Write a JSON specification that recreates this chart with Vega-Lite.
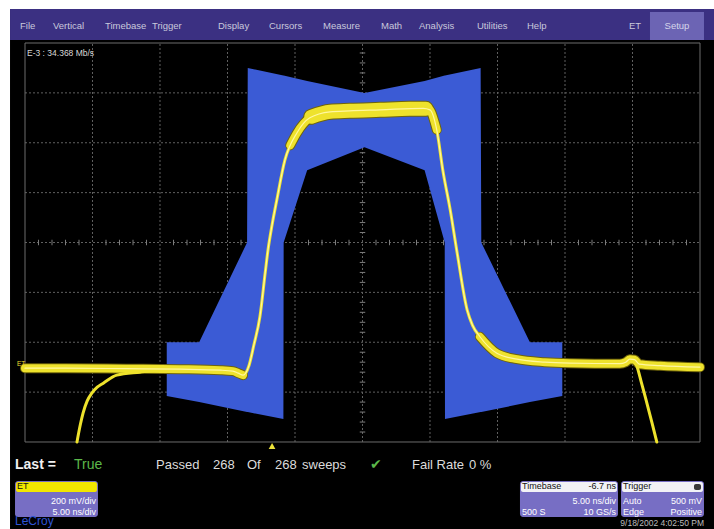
{
  "$schema": "https://vega.github.io/schema/vega-lite/v6.json",
  "width": 714,
  "height": 529,
  "autosize": "none",
  "padding": 0,
  "background": "#000000",
  "config": {"view": {"stroke": null}, "text": {"font": "Liberation Sans"}},
  "datasets": {
    "panels": [
      {"c": "white", "x": -0.3704, "x2": 10.2074, "y": 4.682, "y2": 4.8622},
      {"c": "white", "x": -0.3704, "x2": -0.222, "y": -5.7444, "y2": 4.8622},
      {"c": "menubar", "x": -0.222, "x2": 10.2074, "y": 4.06, "y2": 4.682},
      {"c": "setup", "x": 9.259, "x2": 10.059, "y": 4.06, "y2": 4.622}
    ],
    "boxes": [
      {"c": "box", "x": -0.148, "x2": 1.081, "y": -5.504, "y2": -4.782},
      {"c": "box", "x": 7.333, "x2": 8.785, "y": -5.504, "y2": -4.782},
      {"c": "box", "x": 8.83, "x2": 10.059, "y": -5.504, "y2": -4.782}
    ],
    "heads": [
      {"c": "ethead", "x": -0.133, "x2": 1.066, "y": -5.003, "y2": -4.8},
      {"c": "whitehead", "x": 7.348, "x2": 8.77, "y": -5.003, "y2": -4.8},
      {"c": "whitehead", "x": 8.845, "x2": 10.044, "y": -5.003, "y2": -4.8},
      {"c": "icon", "x": 9.911, "x2": 10.015, "y": -4.962, "y2": -4.842}
    ],
    "gv": [
      {"x": 1, "y": -4, "y2": 4}, {"x": 2, "y": -4, "y2": 4}, {"x": 3, "y": -4, "y2": 4},
      {"x": 4, "y": -4, "y2": 4}, {"x": 5, "y": -4, "y2": 4}, {"x": 6, "y": -4, "y2": 4},
      {"x": 7, "y": -4, "y2": 4}, {"x": 8, "y": -4, "y2": 4}, {"x": 9, "y": -4, "y2": 4}
    ],
    "gh": [
      {"y": -3, "x": 0, "x2": 10}, {"y": -2, "x": 0, "x2": 10}, {"y": -1, "x": 0, "x2": 10},
      {"y": 0, "x": 0, "x2": 10}, {"y": 1, "x": 0, "x2": 10}, {"y": 2, "x": 0, "x2": 10},
      {"y": 3, "x": 0, "x2": 10}
    ],
    "frame": [{"x": 0, "x2": 10, "y": -4, "y2": 4}],
    "tx": [
      {"x":0.2,"y":0},{"x":0.4,"y":0},{"x":0.6,"y":0},{"x":0.8,"y":0},{"x":1.2,"y":0},{"x":1.4,"y":0},{"x":1.6,"y":0},{"x":1.8,"y":0},
      {"x":2.2,"y":0},{"x":2.4,"y":0},{"x":2.6,"y":0},{"x":2.8,"y":0},{"x":3.2,"y":0},{"x":3.4,"y":0},{"x":3.6,"y":0},{"x":3.8,"y":0},
      {"x":4.2,"y":0},{"x":4.4,"y":0},{"x":4.6,"y":0},{"x":4.8,"y":0},{"x":5.2,"y":0},{"x":5.4,"y":0},{"x":5.6,"y":0},{"x":5.8,"y":0},
      {"x":6.2,"y":0},{"x":6.4,"y":0},{"x":6.6,"y":0},{"x":6.8,"y":0},{"x":7.2,"y":0},{"x":7.4,"y":0},{"x":7.6,"y":0},{"x":7.8,"y":0},
      {"x":8.2,"y":0},{"x":8.4,"y":0},{"x":8.6,"y":0},{"x":8.8,"y":0},{"x":9.2,"y":0},{"x":9.4,"y":0},{"x":9.6,"y":0},{"x":9.8,"y":0}
    ],
    "ty": [
      {"x":5,"y":-3.8},{"x":5,"y":-3.6},{"x":5,"y":-3.4},{"x":5,"y":-3.2},{"x":5,"y":-2.8},{"x":5,"y":-2.6},{"x":5,"y":-2.4},{"x":5,"y":-2.2},
      {"x":5,"y":-1.8},{"x":5,"y":-1.6},{"x":5,"y":-1.4},{"x":5,"y":-1.2},{"x":5,"y":-0.8},{"x":5,"y":-0.6},{"x":5,"y":-0.4},{"x":5,"y":-0.2},
      {"x":5,"y":0.2},{"x":5,"y":0.4},{"x":5,"y":0.6},{"x":5,"y":0.8},{"x":5,"y":1.2},{"x":5,"y":1.4},{"x":5,"y":1.6},{"x":5,"y":1.8},
      {"x":5,"y":2.2},{"x":5,"y":2.4},{"x":5,"y":2.6},{"x":5,"y":2.8},{"x":5,"y":3.2},{"x":5,"y":3.4},{"x":5,"y":3.6},{"x":5,"y":3.8}
    ],
    "mask": [
      {"x": 2.10, "y": -2.00, "y2": -3.08},
      {"x": 2.58, "y": -2.00, "y2": -3.20},
      {"x": 3.29, "y": 0.00, "y2": -3.40},
      {"x": 3.30, "y": 3.50, "y2": -3.40},
      {"x": 3.828, "y": 3.35, "y2": -3.54},
      {"x": 3.832, "y": 3.35, "y2": 0.00},
      {"x": 4.18, "y": 3.24, "y2": 1.45},
      {"x": 5.03, "y": 3.00, "y2": 1.91},
      {"x": 5.92, "y": 3.24, "y2": 1.45},
      {"x": 6.218, "y": 3.35, "y2": 0.00},
      {"x": 6.222, "y": 3.35, "y2": -3.54},
      {"x": 6.75, "y": 3.50, "y2": -3.40},
      {"x": 6.76, "y": 0.00, "y2": -3.40},
      {"x": 7.48, "y": -2.00, "y2": -3.20},
      {"x": 7.96, "y": -2.00, "y2": -3.08}
    ],
    "wave": [
      {"s": "main", "x": 0.00, "y": -2.52},
      {"s": "main", "x": 0.60, "y": -2.52},
      {"s": "main", "x": 1.50, "y": -2.53},
      {"s": "main", "x": 2.30, "y": -2.54},
      {"s": "main", "x": 2.90, "y": -2.56},
      {"s": "main", "x": 3.08, "y": -2.58},
      {"s": "main", "x": 3.16, "y": -2.62},
      {"s": "main", "x": 3.23, "y": -2.66},
      {"s": "main", "x": 3.32, "y": -2.46},
      {"s": "main", "x": 3.39, "y": -2.06},
      {"s": "main", "x": 3.48, "y": -1.49},
      {"s": "main", "x": 3.56, "y": -0.59},
      {"s": "main", "x": 3.60, "y": -0.15},
      {"s": "main", "x": 3.66, "y": 0.35},
      {"s": "main", "x": 3.73, "y": 0.85},
      {"s": "main", "x": 3.85, "y": 1.65},
      {"s": "main", "x": 4.03, "y": 2.20},
      {"s": "main", "x": 4.22, "y": 2.50},
      {"s": "main", "x": 4.52, "y": 2.62},
      {"s": "main", "x": 4.81, "y": 2.64},
      {"s": "main", "x": 5.26, "y": 2.66},
      {"s": "main", "x": 5.90, "y": 2.69},
      {"s": "main", "x": 6.00, "y": 2.66},
      {"s": "main", "x": 6.10, "y": 2.26},
      {"s": "main", "x": 6.19, "y": 1.45},
      {"s": "main", "x": 6.30, "y": 0.65},
      {"s": "main", "x": 6.40, "y": -0.19},
      {"s": "main", "x": 6.55, "y": -1.35},
      {"s": "main", "x": 6.63, "y": -1.66},
      {"s": "main", "x": 6.74, "y": -1.89},
      {"s": "main", "x": 6.99, "y": -2.22},
      {"s": "main", "x": 7.29, "y": -2.34},
      {"s": "main", "x": 7.70, "y": -2.40},
      {"s": "main", "x": 8.07, "y": -2.42},
      {"s": "main", "x": 8.81, "y": -2.43},
      {"s": "main", "x": 8.90, "y": -2.40},
      {"s": "main", "x": 8.96, "y": -2.34},
      {"s": "main", "x": 9.03, "y": -2.35},
      {"s": "main", "x": 9.10, "y": -2.44},
      {"s": "main", "x": 9.41, "y": -2.47},
      {"s": "main", "x": 10.00, "y": -2.50},
      {"s": "lcurve", "x": 0.77, "y": -4.00},
      {"s": "lcurve", "x": 0.82, "y": -3.65},
      {"s": "lcurve", "x": 0.86, "y": -3.42},
      {"s": "lcurve", "x": 0.92, "y": -3.18},
      {"s": "lcurve", "x": 0.99, "y": -3.02},
      {"s": "lcurve", "x": 1.07, "y": -2.90},
      {"s": "lcurve", "x": 1.16, "y": -2.82},
      {"s": "lcurve", "x": 1.36, "y": -2.66},
      {"s": "lcurve", "x": 1.70, "y": -2.60},
      {"s": "lcurve", "x": 2.07, "y": -2.55},
      {"s": "lcurve", "x": 2.40, "y": -2.54},
      {"s": "rfall", "x": 8.96, "y": -2.36},
      {"s": "rfall", "x": 9.03, "y": -2.38},
      {"s": "rfall", "x": 9.07, "y": -2.50},
      {"s": "rfall", "x": 9.13, "y": -2.80},
      {"s": "rfall", "x": 9.19, "y": -3.10},
      {"s": "rfall", "x": 9.29, "y": -3.62},
      {"s": "rfall", "x": 9.36, "y": -4.00},
      {"s": "bandL", "x": 0.00, "y": -2.52},
      {"s": "bandL", "x": 0.60, "y": -2.52},
      {"s": "bandL", "x": 1.50, "y": -2.53},
      {"s": "bandL", "x": 2.30, "y": -2.54},
      {"s": "bandL", "x": 2.90, "y": -2.56},
      {"s": "bandL", "x": 3.08, "y": -2.58},
      {"s": "bandL", "x": 3.16, "y": -2.62},
      {"s": "bandL", "x": 3.23, "y": -2.66},
      {"s": "bandS1", "x": 3.93, "y": 1.95},
      {"s": "bandS1", "x": 4.03, "y": 2.20},
      {"s": "bandS1", "x": 4.22, "y": 2.50},
      {"s": "bandS1", "x": 4.40, "y": 2.59},
      {"s": "bandS2", "x": 5.90, "y": 2.69},
      {"s": "bandS2", "x": 6.00, "y": 2.66},
      {"s": "bandS2", "x": 6.06, "y": 2.45},
      {"s": "bandS2", "x": 6.10, "y": 2.26},
      {"s": "bandTop", "x": 4.24, "y": 2.52},
      {"s": "bandTop", "x": 4.52, "y": 2.62},
      {"s": "bandTop", "x": 4.81, "y": 2.64},
      {"s": "bandTop", "x": 5.26, "y": 2.66},
      {"s": "bandTop", "x": 5.70, "y": 2.68},
      {"s": "bandTop", "x": 5.94, "y": 2.68},
      {"s": "bandR", "x": 6.74, "y": -1.89},
      {"s": "bandR", "x": 6.99, "y": -2.22},
      {"s": "bandR", "x": 7.29, "y": -2.34},
      {"s": "bandR", "x": 7.70, "y": -2.40},
      {"s": "bandR", "x": 8.07, "y": -2.42},
      {"s": "bandR", "x": 8.81, "y": -2.43},
      {"s": "bandR", "x": 8.90, "y": -2.40},
      {"s": "bandR", "x": 8.96, "y": -2.34},
      {"s": "bandR", "x": 9.03, "y": -2.35},
      {"s": "bandR", "x": 9.10, "y": -2.44},
      {"s": "bandR", "x": 9.41, "y": -2.47},
      {"s": "bandR", "x": 10.00, "y": -2.50}
    ],
    "menu": [
      {"t": "File", "x": -0.074, "y": 4.35},
      {"t": "Vertical", "x": 0.415, "y": 4.35},
      {"t": "Timebase", "x": 1.185, "y": 4.35},
      {"t": "Trigger", "x": 1.881, "y": 4.35},
      {"t": "Display", "x": 2.859, "y": 4.35},
      {"t": "Cursors", "x": 3.615, "y": 4.35},
      {"t": "Measure", "x": 4.415, "y": 4.35},
      {"t": "Math", "x": 5.274, "y": 4.35},
      {"t": "Analysis", "x": 5.837, "y": 4.35},
      {"t": "Utilities", "x": 6.696, "y": 4.35},
      {"t": "Help", "x": 7.437, "y": 4.35},
      {"t": "ET", "x": 8.948, "y": 4.35}
    ],
    "status": [
      {"t": "Passed", "x": 1.941, "y": -4.46},
      {"t": "268", "x": 2.785, "y": -4.46},
      {"t": "Of", "x": 3.289, "y": -4.46},
      {"t": "268", "x": 3.704, "y": -4.46},
      {"t": "sweeps", "x": 4.104, "y": -4.46},
      {"t": "Fail Rate", "x": 5.733, "y": -4.46},
      {"t": "0 %", "x": 6.578, "y": -4.46}
    ],
    "blackLeft": [
      {"t": "ET", "x": -0.119, "y": -4.892},
      {"t": "Timebase", "x": 7.363, "y": -4.892},
      {"t": "Trigger", "x": 8.859, "y": -4.892}
    ],
    "blackRight": [
      {"t": "-6.7 ns", "x": 8.756, "y": -4.892}
    ],
    "whiteRight": [
      {"t": "200 mV/div", "x": 1.052, "y": -5.183},
      {"t": "5.00 ns/div", "x": 1.052, "y": -5.403},
      {"t": "5.00 ns/div", "x": 8.756, "y": -5.183},
      {"t": "10 GS/s", "x": 8.756, "y": -5.403},
      {"t": "500 mV", "x": 10.03, "y": -5.183},
      {"t": "Positive", "x": 10.03, "y": -5.403}
    ],
    "whiteLeft": [
      {"t": "500 S", "x": 7.363, "y": -5.403},
      {"t": "Auto", "x": 8.859, "y": -5.183},
      {"t": "Edge", "x": 8.859, "y": -5.403}
    ]
  },
  "encoding": {
    "x": {"field": "x", "type": "quantitative", "scale": {"domain": [-0.3704, 10.2074], "nice": false, "zero": false}, "axis": null},
    "y": {"field": "y", "type": "quantitative", "scale": {"domain": [-5.7444, 4.8622], "nice": false, "zero": false}, "axis": null}
  },
  "layer": [
    {
      "data": {"name": "panels"},
      "mark": {"type": "rect"},
      "encoding": {
        "x2": {"field": "x2"},
        "y2": {"field": "y2"},
        "color": {"field": "c", "type": "nominal", "legend": null,
          "scale": {"domain": ["white", "menubar", "setup", "box", "ethead", "whitehead", "icon"],
                    "range": ["#ffffff", "#3b3082", "#6c64b4", "#776ec4", "#f2e600", "#f2f2f6", "#3a3a3a"]}}
      }
    },
    {
      "data": {"name": "gv"},
      "mark": {"type": "rule", "color": "#606060", "strokeDash": [2, 2], "strokeWidth": 1},
      "encoding": {"y2": {"field": "y2"}}
    },
    {
      "data": {"name": "gh"},
      "mark": {"type": "rule", "color": "#606060", "strokeDash": [2, 2], "strokeWidth": 1},
      "encoding": {"x2": {"field": "x2"}}
    },
    {
      "data": {"name": "tx"},
      "mark": {"type": "point", "shape": "stroke", "angle": 90, "size": 30, "color": "#7c7c7c", "strokeWidth": 1, "opacity": 1}
    },
    {
      "data": {"name": "ty"},
      "mark": {"type": "point", "shape": "stroke", "angle": 0, "size": 30, "color": "#7c7c7c", "strokeWidth": 1, "opacity": 1}
    },
    {
      "data": {"name": "frame"},
      "mark": {"type": "rect", "fill": "transparent", "stroke": "#6c6c6c", "strokeWidth": 1},
      "encoding": {"x2": {"field": "x2"}, "y2": {"field": "y2"}}
    },
    {
      "data": {"name": "mask"},
      "mark": {"type": "area", "color": "#3b5bd5", "orient": "vertical", "interpolate": "linear"},
      "encoding": {"y2": {"field": "y2"}}
    },
    {
      "data": {"name": "wave"},
      "transform": [{"filter": "datum.s === 'bandL' || datum.s === 'bandR' || datum.s === 'bandS1' || datum.s === 'bandS2'"}],
      "mark": {"type": "line", "color": "#6f640a", "strokeWidth": 10, "strokeCap": "round", "strokeJoin": "round", "interpolate": "monotone"},
      "encoding": {"detail": {"field": "s"}}
    },
    {
      "data": {"name": "wave"},
      "transform": [{"filter": "datum.s === 'bandTop'"}],
      "mark": {"type": "line", "color": "#6f640a", "strokeWidth": 16, "strokeCap": "round", "strokeJoin": "round", "interpolate": "monotone"},
      "encoding": {"detail": {"field": "s"}}
    },
    {
      "data": {"name": "wave"},
      "transform": [{"filter": "datum.s === 'main' || datum.s === 'lcurve' || datum.s === 'rfall'"}],
      "mark": {"type": "line", "color": "#eee22c", "strokeWidth": 3, "strokeCap": "round", "strokeJoin": "round", "interpolate": "monotone"},
      "encoding": {"detail": {"field": "s"}}
    },
    {
      "data": {"name": "wave"},
      "transform": [{"filter": "datum.s === 'bandL' || datum.s === 'bandR' || datum.s === 'bandS1' || datum.s === 'bandS2'"}],
      "mark": {"type": "line", "color": "#eee22c", "strokeWidth": 8, "strokeCap": "round", "strokeJoin": "round", "interpolate": "monotone"},
      "encoding": {"detail": {"field": "s"}}
    },
    {
      "data": {"name": "wave"},
      "transform": [{"filter": "datum.s === 'bandTop'"}],
      "mark": {"type": "line", "color": "#eee22c", "strokeWidth": 14, "strokeCap": "round", "strokeJoin": "round", "interpolate": "monotone"},
      "encoding": {"detail": {"field": "s"}}
    },
    {
      "data": {"name": "wave"},
      "transform": [{"filter": "datum.s === 'main'"}],
      "mark": {"type": "line", "color": "#fff7a0", "strokeWidth": 1.2, "strokeCap": "round", "strokeJoin": "round", "interpolate": "monotone"},
      "encoding": {"detail": {"field": "s"}}
    },
    {
      "data": {"values": [{"x": 3.66, "y": -4.08}]},
      "mark": {"type": "point", "shape": "triangle-up", "filled": true, "color": "#ece23a", "size": 45, "opacity": 1}
    },
    {
      "data": {"name": "boxes"},
      "mark": {"type": "rect", "cornerRadius": 3},
      "encoding": {
        "x2": {"field": "x2"},
        "y2": {"field": "y2"},
        "color": {"field": "c", "type": "nominal", "legend": null,
          "scale": {"domain": ["white", "menubar", "setup", "box", "ethead", "whitehead", "icon"],
                    "range": ["#ffffff", "#3b3082", "#6c64b4", "#776ec4", "#f2e600", "#f2f2f6", "#3a3a3a"]}}
      }
    },
    {
      "data": {"name": "heads"},
      "mark": {"type": "rect", "cornerRadius": 2},
      "encoding": {
        "x2": {"field": "x2"},
        "y2": {"field": "y2"},
        "color": {"field": "c", "type": "nominal", "legend": null,
          "scale": {"domain": ["white", "menubar", "setup", "box", "ethead", "whitehead", "icon"],
                    "range": ["#ffffff", "#3b3082", "#6c64b4", "#776ec4", "#f2e600", "#f2f2f6", "#3a3a3a"]}}
      }
    },
    {
      "data": {"name": "menu"},
      "mark": {"type": "text", "align": "left", "baseline": "middle", "fontSize": 9.5, "color": "#c9c9dc"},
      "encoding": {"text": {"field": "t"}}
    },
    {
      "data": {"values": [{"t": "Setup", "x": 9.659, "y": 4.35}]},
      "mark": {"type": "text", "align": "center", "baseline": "middle", "fontSize": 9.5, "color": "#d6d6ea"},
      "encoding": {"text": {"field": "t"}}
    },
    {
      "data": {"values": [{"t": "E-3 : 34.368 Mb/s", "x": 0.03, "y": 3.8}]},
      "mark": {"type": "text", "align": "left", "baseline": "middle", "fontSize": 8.5, "color": "#d8d8d8"},
      "encoding": {"text": {"field": "t"}}
    },
    {
      "data": {"values": [{"t": "ET", "x": -0.12, "y": -2.44}]},
      "mark": {"type": "text", "align": "left", "baseline": "middle", "fontSize": 6.5, "color": "#e8dc30"},
      "encoding": {"text": {"field": "t"}}
    },
    {
      "data": {"values": [{"t": "Last =", "x": -0.148, "y": -4.46}]},
      "mark": {"type": "text", "align": "left", "baseline": "middle", "fontSize": 14, "fontWeight": "bold", "color": "#f0f0f0"},
      "encoding": {"text": {"field": "t"}}
    },
    {
      "data": {"values": [{"t": "True", "x": 0.726, "y": -4.46}]},
      "mark": {"type": "text", "align": "left", "baseline": "middle", "fontSize": 14, "color": "#5cb84a"},
      "encoding": {"text": {"field": "t"}}
    },
    {
      "data": {"values": [{"t": "✔", "x": 5.111, "y": -4.46}]},
      "mark": {"type": "text", "align": "left", "baseline": "middle", "fontSize": 14, "font": "DejaVu Sans", "color": "#5cb84a"},
      "encoding": {"text": {"field": "t"}}
    },
    {
      "data": {"name": "status"},
      "mark": {"type": "text", "align": "left", "baseline": "middle", "fontSize": 13, "color": "#dcdcdc"},
      "encoding": {"text": {"field": "t"}}
    },
    {
      "data": {"name": "blackLeft"},
      "mark": {"type": "text", "align": "left", "baseline": "middle", "fontSize": 9, "color": "#111111"},
      "encoding": {"text": {"field": "t"}}
    },
    {
      "data": {"name": "blackRight"},
      "mark": {"type": "text", "align": "right", "baseline": "middle", "fontSize": 9, "color": "#111111"},
      "encoding": {"text": {"field": "t"}}
    },
    {
      "data": {"name": "whiteRight"},
      "mark": {"type": "text", "align": "right", "baseline": "middle", "fontSize": 9, "color": "#ffffff"},
      "encoding": {"text": {"field": "t"}}
    },
    {
      "data": {"name": "whiteLeft"},
      "mark": {"type": "text", "align": "left", "baseline": "middle", "fontSize": 9, "color": "#ffffff"},
      "encoding": {"text": {"field": "t"}}
    },
    {
      "data": {"values": [{"t": "9/18/2002 4:02:50 PM", "x": 10.059, "y": -5.724}]},
      "mark": {"type": "text", "align": "right", "baseline": "bottom", "fontSize": 8.5, "color": "#bdbdbd"},
      "encoding": {"text": {"field": "t"}}
    },
    {
      "data": {"values": [{"t": "LeCroy", "x": -0.148, "y": -5.724}]},
      "mark": {"type": "text", "align": "left", "baseline": "bottom", "fontSize": 12, "color": "#2f55d4"},
      "encoding": {"text": {"field": "t"}}
    }
  ]
}
